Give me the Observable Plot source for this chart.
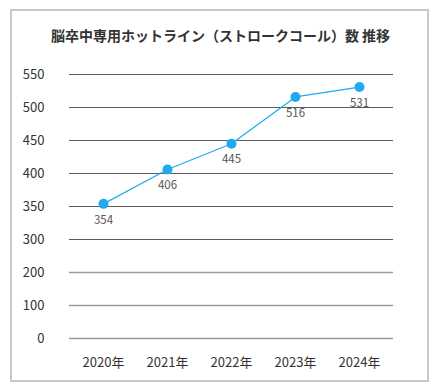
<!DOCTYPE html>
<html><head><meta charset="utf-8">
<script src="https://cdn.jsdelivr.net/npm/d3@7"></script>
<script src="https://cdn.jsdelivr.net/npm/@observablehq/plot@0.6"></script>
<style>
body{margin:0;background:#fff;font-family:"Noto Sans CJK JP","Noto Sans",sans-serif;}
#wrap{position:relative;width:441px;height:391px;}
#box{position:absolute;left:10px;top:9px;width:415px;height:369px;border:2px solid #c8c8c8;box-sizing:content-box;}
#title{position:absolute;left:0;top:26px;width:441px;text-align:center;font-size:14px;font-weight:bold;color:#333;line-height:18px;}
#chart{position:absolute;left:0;top:0;}
</style></head>
<body><div id="wrap"><div id="box"></div><div id="title">脳卒中専用ホットライン（ストロークコール）数 推移</div><div id="chart"></div></div>
<script>
const years = ["2020年","2021年","2022年","2023年","2024年"];
const values = [354, 406, 445, 516, 531];
const yTicks = [0, 100, 200, 300, 350, 400, 450, 500, 550];
const data = years.map((y, i) => ({year: y, value: values[i]}));

const bottomY = 338, step = 33;
const yRange = yTicks.map((_, i) => bottomY - step * i);
const blue = "#1faaef";

const chart = Plot.plot({
  width: 441, height: 391,
  marginLeft: 69, marginRight: 48, marginTop: 74, marginBottom: 53,
  style: {fontFamily: '"Noto Sans CJK JP","Noto Sans",sans-serif', background: "transparent"},
  x: {type: "point", domain: years, padding: 0.5, label: null},
  y: {type: "linear", domain: yTicks, range: yRange, label: null},
  marks: [
    Plot.ruleY(yTicks.filter(d => d >= 300), {stroke: "#5a5a5a", strokeWidth: 1.2}),
    Plot.ruleY(yTicks.filter(d => d < 300), {stroke: "#9a9a9a", strokeWidth: 1.6}),
    Plot.axisY(yTicks, {tickSize: 0, tickPadding: 0, dx: -25, textAnchor: "end", fontSize: 13, fill: "#333", tickFormat: d => String(d), label: null}),
    Plot.axisX(years, {tickSize: 0, tickPadding: 0, dy: 19, fontSize: 13, fill: "#333", label: null}),
    Plot.line(data, {x: "year", y: "value", stroke: blue, strokeWidth: 1.2}),
    Plot.dot(data, {x: "year", y: "value", r: 5, fill: blue, stroke: "none"}),
    Plot.text(data, {x: "year", y: "value", text: d => String(d.value), dy: 16, fontSize: 11.5, fill: "#555"})
  ]
});
document.getElementById("chart").appendChild(chart);
</script></body></html>
